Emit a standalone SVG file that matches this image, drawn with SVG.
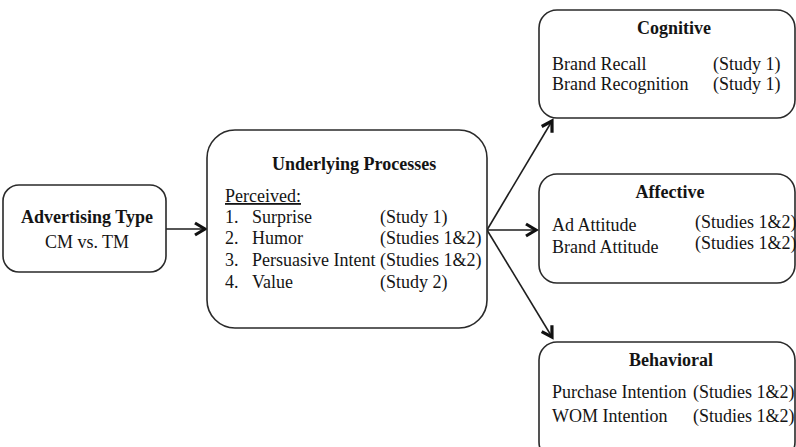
<svg xmlns="http://www.w3.org/2000/svg" width="796" height="447" viewBox="0 0 796 447">
<defs>
<style>
.box{fill:#fff;stroke:#2a2a2a;stroke-width:1.6}
.t{font-family:"Liberation Serif","Times New Roman",serif;font-size:18px;fill:#141414}
.b{font-weight:bold}
.m{text-anchor:middle}
.conn{stroke:#1e1e1e;stroke-width:1.6;fill:none}
</style>
<marker id="ah" viewBox="0 0 16 16" refX="13" refY="8" markerWidth="16" markerHeight="16" markerUnits="userSpaceOnUse" orient="auto">
<path d="M3,2 L13,8 L3,14" fill="none" stroke="#111" stroke-width="3.2" stroke-linejoin="miter"/>
</marker>
</defs>
<rect width="796" height="447" fill="#fff"/>
<g id="connectors">
<line class="conn" x1="166" y1="229" x2="205" y2="229" marker-end="url(#ah)"/>
<line class="conn" x1="487" y1="230" x2="536" y2="230" marker-end="url(#ah)"/>
<line class="conn" x1="487" y1="230" x2="552" y2="121" marker-end="url(#ah)"/>
<line class="conn" x1="487" y1="230" x2="552" y2="337" marker-end="url(#ah)"/>
</g>
<g id="advertising-type">
<rect class="box" x="3" y="185" width="163" height="87" rx="16"/>
<text class="t b m" x="87" y="223">Advertising Type</text>
<text class="t m" x="87" y="248">CM vs. TM</text>
</g>
<g id="underlying-processes">
<rect class="box" x="207" y="130" width="280" height="198" rx="28"/>
<text class="t b" x="272" y="170">Underlying Processes</text>
<text class="t" x="225" y="202" text-decoration="underline">Perceived:</text>
<text class="t" x="225" y="223">1.</text><text class="t" x="252" y="223">Surprise</text><text class="t" x="380" y="223">(Study 1)</text>
<text class="t" x="225" y="244">2.</text><text class="t" x="252" y="244">Humor</text><text class="t" x="380" y="244">(Studies 1&amp;2)</text>
<text class="t" x="225" y="266">3.</text><text class="t" x="252" y="266">Persuasive Intent</text><text class="t" x="380" y="266">(Studies 1&amp;2)</text>
<text class="t" x="225" y="288">4.</text><text class="t" x="252" y="288">Value</text><text class="t" x="380" y="288">(Study 2)</text>
</g>
<g id="cognitive">
<rect class="box" x="539" y="10" width="256" height="108" rx="18"/>
<text class="t b m" x="674" y="34">Cognitive</text>
<text class="t" x="552" y="70">Brand Recall</text><text class="t" x="713" y="70">(Study 1)</text>
<text class="t" x="552" y="90">Brand Recognition</text><text class="t" x="713" y="90">(Study 1)</text>
</g>
<g id="affective">
<rect class="box" x="539" y="174" width="256" height="109" rx="18"/>
<text class="t b m" x="670" y="198">Affective</text>
<text class="t" x="552" y="231">Ad Attitude</text><text class="t" x="695" y="228">(Studies 1&amp;2)</text>
<text class="t" x="552" y="253">Brand Attitude</text><text class="t" x="695" y="249">(Studies 1&amp;2)</text>
</g>
<g id="behavioral">
<rect class="box" x="539" y="342" width="256" height="118" rx="18"/>
<text class="t b m" x="671" y="366">Behavioral</text>
<text class="t" x="552" y="398">Purchase Intention</text><text class="t" x="693" y="398">(Studies 1&amp;2)</text>
<text class="t" x="552" y="422">WOM Intention</text><text class="t" x="693" y="422">(Studies 1&amp;2)</text>
</g>
</svg>
